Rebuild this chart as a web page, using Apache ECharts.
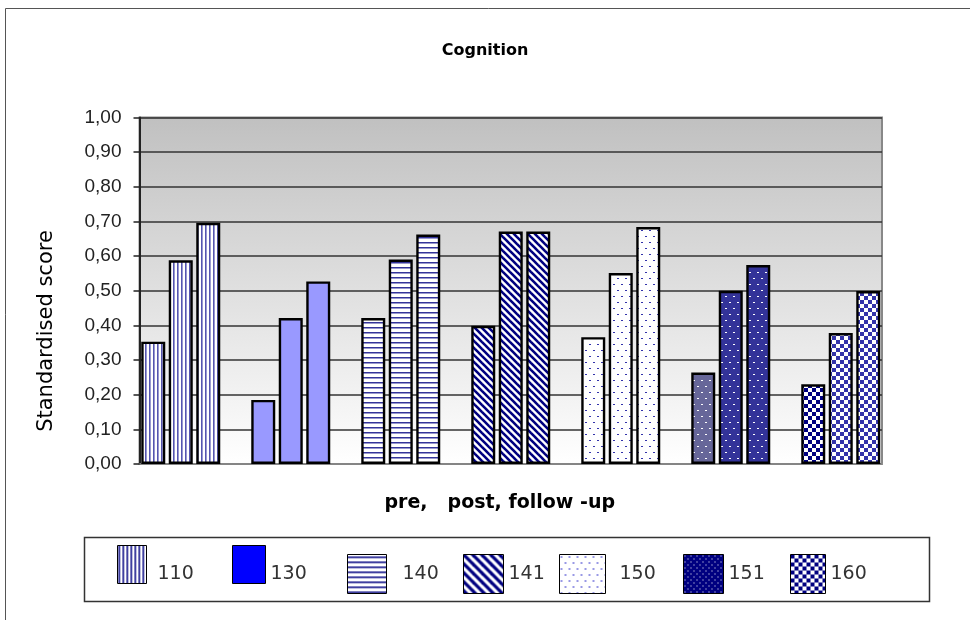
<!DOCTYPE html>
<html>
<head>
<meta charset="utf-8">
<script src="https://cdn.jsdelivr.net/npm/echarts@6/dist/echarts.min.js"></script>
<style>
  html, body { margin: 0; padding: 0; background: #fff; }
  #chart { width: 970px; height: 620px; }
</style>
</head>
<body>
<div id="chart"></div>
<script>
// Groups (one per legend entry) and their three measurements
const groups = ['110', '130', '140', '141', '150', '151', '160'];
const pre = [0.353, 0.185, 0.421, 0.399, 0.366, 0.264, 0.230];
const post = [0.588, 0.421, 0.590, 0.671, 0.551, 0.500, 0.378];
const followUp = [0.696, 0.527, 0.662, 0.671, 0.684, 0.574, 0.499];
const yTicks = [0, 0.1, 0.2, 0.3, 0.4, 0.5, 0.6, 0.7, 0.8, 0.9, 1.0];

// ---- fill patterns -------------------------------------------------------
function tile(w, h, draw) {
  const c = document.createElement('canvas');
  c.width = w; c.height = h;
  const ctx = c.getContext('2d');
  draw(ctx, w, h);
  return { image: c, repeat: 'repeat' };
}
function vStripes(line, bg, lw) {
  return tile(4, 4, (ctx) => {
    ctx.fillStyle = bg; ctx.fillRect(0, 0, 4, 4);
    ctx.fillStyle = line; ctx.fillRect(1, 0, lw, 4);
  });
}
function hStripes(line, bg) {
  return tile(5, 5, (ctx) => {
    ctx.fillStyle = bg; ctx.fillRect(0, 0, 5, 5);
    ctx.fillStyle = line; ctx.fillRect(0, 2, 5, 1.5);
  });
}
function diagStripes(line, bg, p, lw) {
  return tile(p, p, (ctx) => {
    ctx.fillStyle = bg; ctx.fillRect(0, 0, p, p);
    ctx.strokeStyle = line; ctx.lineWidth = lw;
    for (const x0 of [-p, 0, p]) {
      ctx.beginPath();
      ctx.moveTo(x0 - 1, -1); ctx.lineTo(x0 + p + 1, p + 1);
      ctx.stroke();
    }
  });
}
function dots(dot, bg) {
  return tile(8, 12, (ctx) => {
    ctx.fillStyle = bg; ctx.fillRect(0, 0, 8, 12);
    ctx.fillStyle = dot;
    ctx.fillRect(1, 2, 2, 1);
    ctx.fillRect(5, 8, 2, 1);
  });
}
function denseDots(dot, bg) {
  return tile(6, 6, (ctx) => {
    ctx.fillStyle = bg; ctx.fillRect(0, 0, 6, 6);
    ctx.fillStyle = dot;
    ctx.fillRect(1, 1, 1, 1);
    ctx.fillRect(4, 4, 1, 1);
  });
}
function checker(a, b) {
  return tile(8, 8, (ctx) => {
    ctx.fillStyle = b; ctx.fillRect(0, 0, 8, 8);
    ctx.fillStyle = a; ctx.fillRect(0, 0, 4, 4); ctx.fillRect(4, 4, 4, 4);
  });
}

// fills for the bars: [pre, post, follow-up] per group
const barFills = [
  [vStripes('#5555b0', '#fff', 1.6)],
  ['#9999ff'],
  [hStripes('#333399', '#fff')],
  [diagStripes('#000080', '#fff', 7, 2.6)],
  [dots('#3333aa', '#fff')],
  [dots('#ffffff', '#666699'), dots('#ffffff', '#333399'), dots('#ffffff', '#333399')],
  [checker('#000080', '#fff'), checker('#3333aa', '#fff'), checker('#3333aa', '#fff')]
];
// fills for the legend keys
const keyFills = [
  vStripes('#000080', '#fff', 1.5),
  '#0000ff',
  hStripes('#000080', '#fff'),
  diagStripes('#000080', '#fff', 9, 3.2),
  dots('#3333cc', '#fff'),
  denseDots('#ffffff', '#000080'),
  checker('#000080', '#fff')
];

// ---- x slots: three bars per group, one empty slot between groups ----------
const phases = ['pre', 'post', 'follow-up'];
const slots = [];
groups.forEach((g, gi) => {
  phases.forEach(p => slots.push(g + ' ' + p));
  if (gi < groups.length - 1) slots.push('gap ' + gi);
});

const series = groups.map((g, gi) => {
  const data = slots.map(() => '-');
  const vals = [pre[gi], post[gi], followUp[gi]];
  const fills = barFills[gi];
  vals.forEach((v, k) => {
    data[gi * 4 + k] = { value: v, itemStyle: { color: fills[Math.min(k, fills.length - 1)] } };
  });
  return {
    name: g,
    type: 'bar',
    barWidth: 24,
    barGap: '-100%',
    itemStyle: { color: keyFills[gi], borderColor: '#000', borderWidth: 2.4 },
    emphasis: { disabled: true },
    data: data
  };
});

// legend key placement
const keyLayout = [
  { left: 117, top: 545, w: 29, h: 38, padL: 6, low: true },
  { left: 232, top: 545, w: 33, h: 38, padL: 0, low: true },
  { left: 347, top: 554, w: 39, h: 39, padL: 11, low: false },
  { left: 463, top: 554, w: 40, h: 39, padL: 0, low: false },
  { left: 559, top: 554, w: 46, h: 39, padL: 9, low: false },
  { left: 683, top: 554, w: 40, h: 39, padL: 0, low: false },
  { left: 790, top: 554, w: 35, h: 39, padL: 0, low: false }
];
const legends = groups.map((g, gi) => {
  const k = keyLayout[gi];
  return {
    left: k.left,
    top: k.top,
    padding: 0,
    itemWidth: k.w,
    itemHeight: k.h,
    selectedMode: false,
    icon: 'rect',
    data: [{ name: g, itemStyle: { color: keyFills[gi], borderColor: '#000', borderWidth: 1 } }],
    formatter: name => (k.low ? '\n' + name : name),
    textStyle: {
      fontFamily: 'DejaVu Sans', fontSize: 19, color: '#333',
      lineHeight: k.low ? 19 : 22,
      padding: [0, 0, 0, k.padL]
    }
  };
});

const chart = echarts.init(document.getElementById('chart'), null, { renderer: 'canvas' });
chart.setOption({
  animation: false,
  backgroundColor: '#fff',
  title: {
    text: 'Cognition',
    left: 'center',
    top: 38,
    textStyle: { fontFamily: 'DejaVu Sans', fontWeight: 'bold', fontSize: 16, color: '#000' }
  },
  legend: legends,
  graphic: [
    { type: 'rect', shape: { x: 5.5, y: 8.5, width: 1200, height: 800 }, style: { fill: null, stroke: '#555', lineWidth: 1 }, silent: true },
    { type: 'rect', shape: { x: 84.5, y: 537.5, width: 845, height: 64 }, style: { fill: null, stroke: '#333', lineWidth: 1.5 }, silent: true, z: -1 },
    {
      type: 'text', x: 47, y: 331, rotation: Math.PI / 2, silent: true,
      style: {
        text: 'Standardised score', align: 'center', verticalAlign: 'middle',
        fontFamily: 'DejaVu Sans', fontSize: 21, fill: '#000'
      }
    }
  ],
  grid: {
    left: 139.5, right: 88, top: 117.5, bottom: 156,
    show: true,
    borderColor: '#888', borderWidth: 2,
    backgroundColor: new echarts.graphic.LinearGradient(0, 0, 0, 1, [
      { offset: 0, color: '#c0c0c0' },
      { offset: 1, color: '#ffffff' }
    ])
  },
  xAxis: {
    type: 'category',
    data: slots,
    axisLine: { lineStyle: { color: '#999', width: 1.5 } },
    axisTick: { show: false },
    axisLabel: { show: false },
    splitLine: { show: false },
    name: '{a|pre,}      {b|post, follow -up}',
    nameLocation: 'middle',
    nameGap: 30,
    nameTextStyle: {
      padding: [0, 22, 0, 0],
      rich: {
        a: { fontFamily: 'DejaVu Sans', fontWeight: 'bold', fontSize: 19, color: '#000' },
        b: { fontFamily: 'DejaVu Sans', fontWeight: 'bold', fontSize: 19, color: '#000' }
      }
    }
  },
  yAxis: {
    type: 'value',
    min: yTicks[0],
    max: yTicks[yTicks.length - 1],
    interval: 0.1,
    axisLine: { show: true, lineStyle: { color: '#222', width: 2 } },
    axisTick: { show: true, length: 6, lineStyle: { color: '#222', width: 1.5 } },
    axisLabel: {
      margin: 18,
      fontFamily: 'Liberation Sans', fontSize: 19, color: '#222',
      formatter: v => v.toFixed(2).replace('.', ',')
    },
    splitLine: { lineStyle: { color: '#333', width: 1.5 } }
  },
  series: series
});
</script>
</body>
</html>
